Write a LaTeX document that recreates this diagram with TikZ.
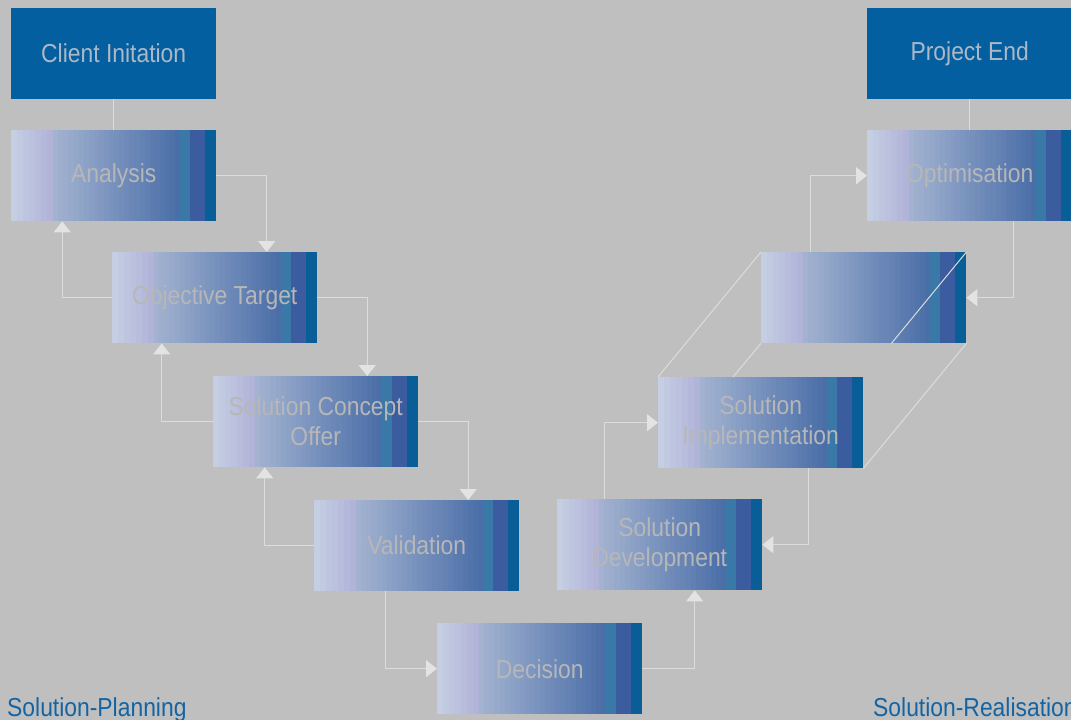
\documentclass[tikz,border=0pt]{standalone}
\usepackage{fontspec}
\setmainfont{Liberation Sans}[FakeStretch=0.88]
\usetikzlibrary{arrows.meta}
\definecolor{bg}{HTML}{BFBFBF}
\definecolor{solidblue}{HTML}{035F9F}
\definecolor{labelblue}{HTML}{1464A3}
\definecolor{boxtext}{HTML}{B7B7B7}
\definecolor{solidtext}{HTML}{ADB8C6}
\definecolor{gA}{HTML}{C5CEE3}
\definecolor{gB}{HTML}{B1B4D8}
\definecolor{gC}{HTML}{A2B2D0}
\definecolor{gD}{HTML}{4A6EA8}
\definecolor{gE}{HTML}{3A78A8}
\definecolor{gF}{HTML}{3B5DA0}
\definecolor{gG}{HTML}{0A5E98}
\definecolor{conncol}{HTML}{DCDCDC}
\definecolor{tipcol}{HTML}{E3E3E3}
\tikzset{
  basebox/.style={rectangle, minimum width=205pt, minimum height=91pt, inner sep=0pt,
    anchor=north west, align=center, font=\fontsize{26}{30}\selectfont},
  solidbox/.style={basebox, fill=solidblue, text=solidtext},
  gradbox/.style={basebox, text=boxtext,
    path picture={
      \foreach \i in {0,...,6} {
        \pgfmathsetmacro\pa{100-\i*100/6}
        \pgfmathsetmacro\xa{\i*6}
        \pgfmathsetmacro\xb{\i*6+6.6}
        \fill[gA!\pa!gB] ([xshift=\xa pt]path picture bounding box.south west) rectangle ([xshift=\xb pt]path picture bounding box.north west);
      }
      \foreach \i in {0,...,24} {
        \pgfmathsetmacro\pa{100-\i*100/24}
        \pgfmathsetmacro\xa{42+\i*5.08}
        \pgfmathsetmacro\xb{42+\i*5.08+5.7}
        \fill[gC!\pa!gD] ([xshift=\xa pt]path picture bounding box.south west) rectangle ([xshift=\xb pt]path picture bounding box.north west);
      }
      \fill[gE] ([xshift=169pt]path picture bounding box.south west) rectangle ([xshift=179.5pt]path picture bounding box.north west);
      \fill[gF] ([xshift=179pt]path picture bounding box.south west) rectangle ([xshift=194.5pt]path picture bounding box.north west);
      \fill[gG] ([xshift=194pt]path picture bounding box.south west) rectangle (path picture bounding box.north east);
    }},
  conn/.style={draw=conncol, line width=1.4pt},
  arr/.style={conn, -{Triangle[width=17pt,length=11pt,fill=tipcol,color=tipcol]}},
  thin/.style={draw=conncol, line width=1pt},
  corner label/.style={anchor=base west, inner sep=0pt, text=labelblue, font=\fontsize{26}{30}\selectfont}
}
\begin{document}
\begin{tikzpicture}[x=1pt,y=-1pt]
\fill[bg] (0,0) rectangle (1071,720);
\clip (0,0) rectangle (1071,720);

\node[solidbox] (ci) at (11,8) {Client Initation};
\node[gradbox] (an) at (11,130) {Analysis};
\node[gradbox] (ob) at (112,252) {Objective Target};
\node[gradbox] (sc) at (213,376) {Solution Concept\\Offer};
\node[gradbox] (va) at (314,500) {Validation};
\node[gradbox] (de) at (437,623) {Decision};
\node[gradbox] (sd) at (557,499) {Solution\\Development};
\node[gradbox] (si) at (658,377) {Solution\\Implementation};
\node[gradbox] (bl) at (761,252) {};
\node[gradbox] (op) at (867,130) {Optimisation};
\node[solidbox] (pe) at (867,8) {Project End};

% prism lines
\draw[thin] (si.north west) -- (bl.north west);
\draw[thin] ([xshift=75pt]si.north west) -- (bl.south west);
\draw[thin] (si.south east) -- (bl.south east);
\draw[thin] (bl.north east) -- ([xshift=-75pt]bl.south east);

% connectors
\draw[conn] (ci.south) -- (an.north);
\draw[arr] (an.east) -| ([xshift=52pt]ob.north);
\draw[arr] (ob.west) -| ([xshift=-51.5pt]an.south);
\draw[arr] (ob.east) -| ([xshift=51.5pt]sc.north);
\draw[arr] (sc.west) -| ([xshift=-53pt]ob.south);
\draw[arr] (sc.east) -| ([xshift=51.5pt]va.north);
\draw[arr] (va.west) -| ([xshift=-51pt]sc.south);
\draw[arr] ([xshift=-31pt]va.south) |- (de.west);
\draw[arr] (de.east) -| ([xshift=35pt]sd.south);
\draw[arr] ([xshift=-55pt]sd.north) |- (si.west);
\draw[arr] ([xshift=48pt]si.south) |- (sd.east);
\draw[arr] ([xshift=-53pt]bl.north) |- (op.west);
\draw[arr] ([xshift=44pt]op.south) |- (bl.east);
\draw[conn] (pe.south) -- (op.north);

\node[corner label] (lp) at (7,716) {Solution-Planning};
\node[corner label] (lr) at (873,716) {Solution-Realisation};
\end{tikzpicture}
\end{document}
